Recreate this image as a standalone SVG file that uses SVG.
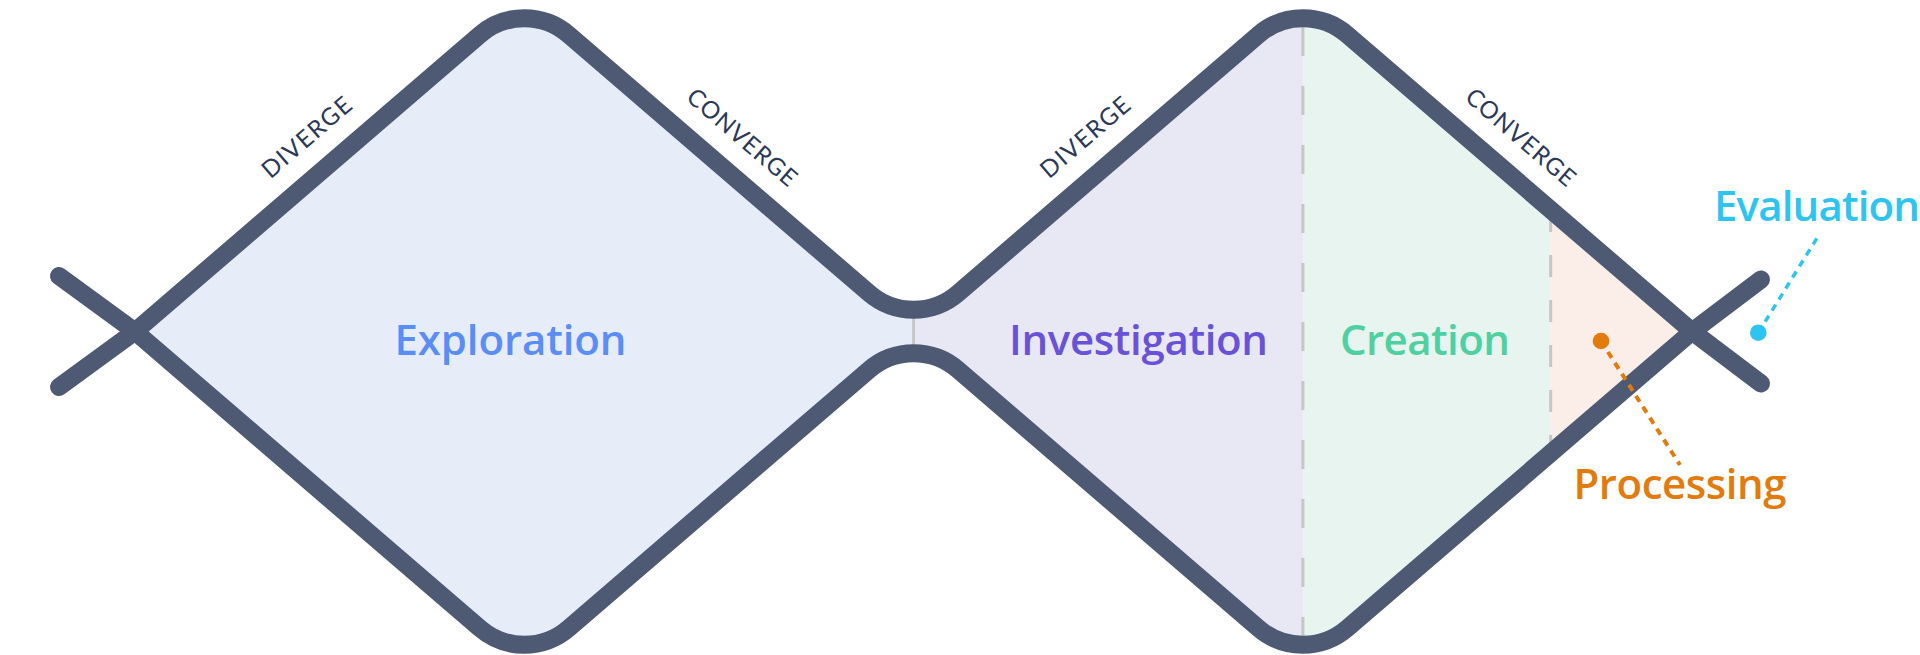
<svg xmlns="http://www.w3.org/2000/svg" width="1920" height="655" viewBox="0 0 1920 655">
<style>
.edge{fill:none;stroke:#4E5A74;stroke-width:18;stroke-linejoin:round;stroke-linecap:butt}
.stub{fill:none;stroke:#4E5A74;stroke-width:18;stroke-linecap:round}
.big{font-family:"Open Sans","Lato",sans-serif;font-weight:600;font-size:42px;text-anchor:middle}
.tag{font-family:"Lato","Open Sans",sans-serif;font-weight:400;font-size:24px;fill:#2B3856;text-anchor:middle}
.gdash{stroke:#C6C6C6;stroke-width:3;fill:none}
</style>
<defs>
<clipPath id="body">
<path d="M135,331.5 L479.9,34.7 A68,68 0 0 1 568.7,34.7 L869.2,293.3 A68,68 0 0 0 958,293.3 L1258.5,34.7 A68,68 0 0 1 1347.3,34.7 L1692.2,331.5 L1347.3,628.3 A68,68 0 0 1 1258.5,628.3 L958,369.7 A68,68 0 0 0 869.2,369.7 L568.7,628.3 A68,68 0 0 1 479.9,628.3 Z"/>
</clipPath>
</defs>
<rect width="1920" height="655" fill="#FFFFFF"/>
<g id="exploration">
<rect x="100" y="0" width="813.6" height="655" fill="#E7ECF9" clip-path="url(#body)"/>
<text class="big" x="510.5" y="355" fill="#5B8DF6" textLength="232" lengthAdjust="spacing">Exploration</text>
</g>
<g id="investigation">
<rect x="913.6" y="0" width="389.3" height="655" fill="#E8E7F4" clip-path="url(#body)"/>
<text class="big" x="1138.5" y="355" fill="#6A52D8" textLength="259" lengthAdjust="spacing">Investigation</text>
</g>
<g id="creation">
<rect x="1302.9" y="0" width="247.8" height="655" fill="#E7F4F0" clip-path="url(#body)"/>
<text class="big" x="1425" y="355" fill="#4FD0A0" textLength="170" lengthAdjust="spacing">Creation</text>
</g>
<g id="processing">
<rect x="1550.7" y="0" width="160" height="655" fill="#FBEEE9" clip-path="url(#body)"/>
</g>
<g id="dividers">
<line class="gdash" x1="913.6" y1="317" x2="913.6" y2="347"/>
<line class="gdash" x1="1302.9" y1="27" x2="1302.9" y2="637" stroke-dasharray="29 30"/>
<line class="gdash" x1="1550.7" y1="210" x2="1550.7" y2="446" stroke-dasharray="22 23"/>
</g>
<g id="connectors">
<path class="edge" d="M135,331.5 L479.9,34.7 A68,68 0 0 1 568.7,34.7 L869.2,293.3 A68,68 0 0 0 958,293.3 L1258.5,34.7 A68,68 0 0 1 1347.3,34.7 L1692.2,331.5"/>
<path class="edge" d="M135,331.5 L479.9,628.3 A68,68 0 0 0 568.7,628.3 L869.2,369.7 A68,68 0 0 1 958,369.7 L1258.5,628.3 A68,68 0 0 0 1347.3,628.3 L1692.2,331.5"/>
<path class="stub" d="M135,331.5 L59,276"/>
<path class="stub" d="M135,331.5 L59,387"/>
<path class="stub" d="M1692.2,331.5 L1761,279.5"/>
<path class="stub" d="M1692.2,331.5 L1761,383.5"/>
<line x1="1601" y1="341" x2="1680" y2="465" stroke="#E27B0C" stroke-width="4" stroke-dasharray="7 6"/>
<line x1="1758.3" y1="332.7" x2="1818.3" y2="236" stroke="#2EC4F2" stroke-width="3.5" stroke-dasharray="7 6"/>
</g>
<g id="labels">
<text class="tag" transform="translate(329.7,164) rotate(-40.71)" x="0" y="-27" textLength="110" lengthAdjust="spacing">DIVERGE</text>
<text class="tag" transform="translate(719,164) rotate(40.71)" x="0" y="-27" textLength="136" lengthAdjust="spacing">CONVERGE</text>
<text class="tag" transform="translate(1108.3,164) rotate(-40.71)" x="0" y="-27" textLength="110" lengthAdjust="spacing">DIVERGE</text>
<text class="tag" transform="translate(1497.6,164) rotate(40.71)" x="0" y="-27" textLength="136" lengthAdjust="spacing">CONVERGE</text>
</g>
<g id="processing-marker">
<circle cx="1601" cy="341" r="8.3" fill="#E27B0C"/>
<text class="big" x="1680" y="499" fill="#E27B0C" textLength="213" lengthAdjust="spacing">Processing</text>
</g>
<g id="evaluation">
<circle cx="1758.3" cy="332.7" r="8.3" fill="#2EC4F2"/>
<text class="big" x="1714" y="221" fill="#2EC4F2" style="text-anchor:start" textLength="206" lengthAdjust="spacing">Evaluation</text>
</g>
</svg>
